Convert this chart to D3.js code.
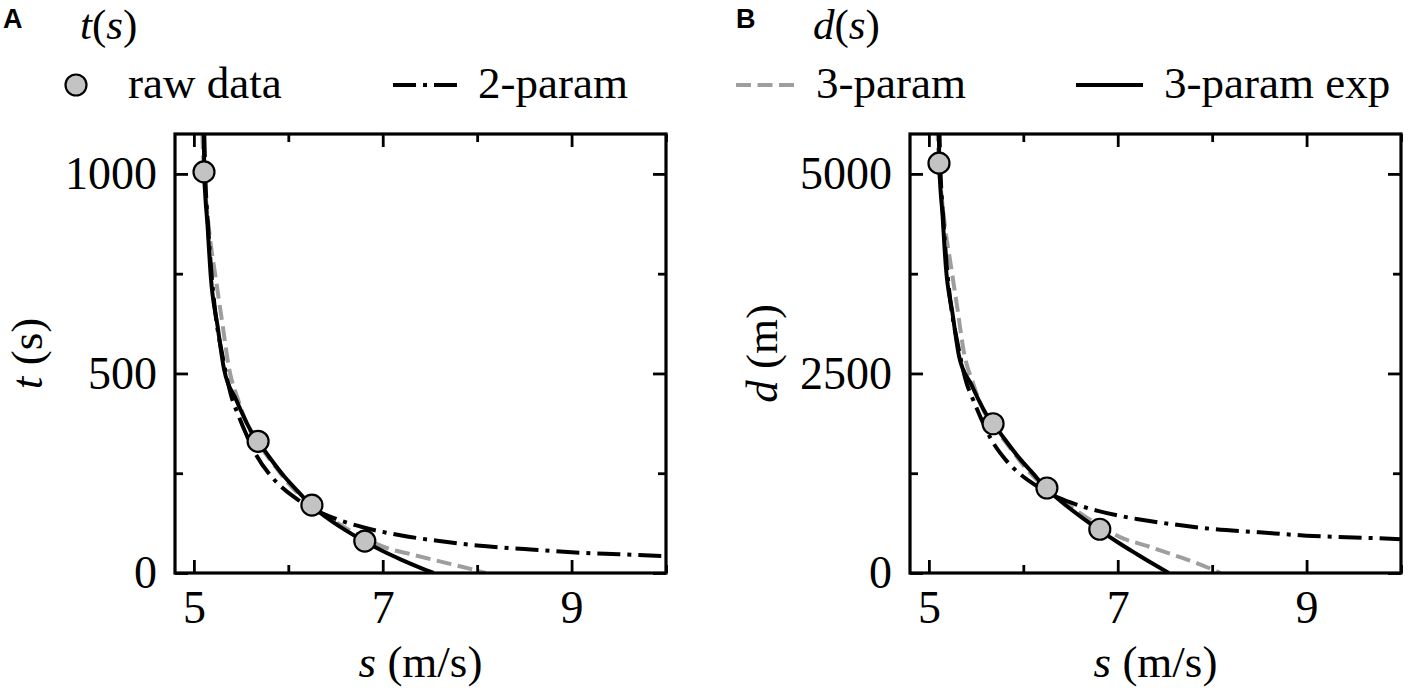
<!DOCTYPE html>
<html>
<head>
<meta charset="utf-8">
<script src="https://cdn.jsdelivr.net/npm/d3@7/dist/d3.min.js"></script>
<style>
  body { margin: 0; background: #fff; }
  svg text { font-family: "Liberation Serif", "Times New Roman", serif; fill: #000; }
  .panel-letter { font-family: "Liberation Sans", Arial, sans-serif !important; font-weight: bold; }
</style>
</head>
<body>
<svg id="chart" width="1409" height="697"></svg>
<script>
// raw data (speed m/s, time s, distance m)
const rawS = [5.107, 5.68, 6.25, 6.81];
const rawT = [1005, 330, 170, 80];
const rawD = [5135, 1870, 1065, 548];

// 2-param fit
const twoS = [5.11, 5.12, 5.15, 5.19, 5.245, 5.29, 5.40, 5.47, 5.55, 5.65, 5.82, 5.95, 6.1, 6.3, 6.5, 6.8, 7.2, 7.6, 8.0, 8.5, 9.0, 9.5, 10.05];
const twoT = [1100, 1005, 870, 740, 620, 560, 440, 396, 350, 300, 242, 211, 184, 156, 136, 114, 94, 80, 69, 60, 52, 47, 42];
const twoD = [5621, 5146, 4481, 3841, 3252, 2962, 2376, 2166, 1943, 1695, 1408, 1255, 1122, 983, 884, 775, 677, 608, 552, 510, 468, 446, 422];

// 3-param fit
const threeS = [5.09, 5.105, 5.135, 5.17, 5.23, 5.305, 5.37, 5.47, 5.61, 5.68, 5.85, 6.0, 6.25, 6.5, 6.8, 7.05, 7.3, 7.57, 7.85, 8.09];
const threeT = [1100, 1005, 920, 840, 741, 620, 516, 433, 350, 325, 270, 225, 168, 128, 88, 62, 47, 31, 15, 0];
const threeD = [5599, 5131, 4724, 4343, 3875, 3289, 2771, 2369, 1964, 1846, 1580, 1350, 1050, 832, 598, 437, 343, 235, 118, 0];

// 3-param exp fit
const expS = [5.105, 5.11, 5.145, 5.18, 5.25, 5.32, 5.45, 5.62, 5.68, 5.8, 5.96, 6.1, 6.25, 6.4, 6.6, 6.8, 7.0, 7.2, 7.4, 7.54];
const expT = [1100, 1005, 870, 740, 620, 510, 433, 350, 330, 290, 241, 205, 168, 140, 108, 80, 55, 33, 13, 0];
const expD = [5616, 5136, 4476, 3833, 3255, 2713, 2360, 1967, 1874, 1682, 1436, 1251, 1050, 896, 713, 544, 385, 238, 96, 0];

// ticks
const xMajor = [5, 7, 9];
const xMinor = [6, 8, 10];
const tMajor = [0, 500, 1000];
const tMinor = [250, 750];
const dMajor = [0, 2500, 5000];
const dMinor = [1250, 3750];

const GRAY = '#9e9e9e';
const MARKER_FILL = '#c3c3c3';
const LW = 4;
const DASHDOT = '23,7,4,7';
const DASHED = '15,6.5';

const svg = d3.select('#chart');

const panels = [
  { id: 'A', sym: 't', unit: 's', left: 175, right: 666, yMax: 1100,
    yMajor: tMajor, yMinor: tMinor, raw: rawT, two: twoT, three: threeT, exp: expT },
  { id: 'B', sym: 'd', unit: 'm', left: 910, right: 1401, yMax: 5500,
    yMajor: dMajor, yMinor: dMinor, raw: rawD, two: twoD, three: threeD, exp: expD }
];
const TOP = 134, BOTTOM = 573;

panels.forEach((p, pi) => {
  const x = d3.scaleLinear().domain([4.8, 10.0]).range([p.left, p.right]);
  const y = d3.scaleLinear().domain([0, p.yMax]).range([BOTTOM, TOP]);
  const g = svg.append('g');

  const clipId = 'clip' + p.id;
  svg.append('clipPath').attr('id', clipId).append('rect')
    .attr('x', p.left).attr('y', TOP).attr('width', p.right - p.left).attr('height', BOTTOM - TOP);

  const curves = g.append('g').attr('clip-path', `url(#${clipId})`);
  const lineOf = (S, V) => d3.line()
    .x(i => x(S[i])).y(i => y(V[i]))
    .curve(d3.curveMonotoneX)(d3.range(S.length));

  curves.append('path').attr('d', lineOf(threeS, p.three))
    .attr('fill', 'none').attr('stroke', GRAY).attr('stroke-width', LW).attr('stroke-dasharray', DASHED);
  curves.append('path').attr('d', lineOf(twoS, p.two))
    .attr('fill', 'none').attr('stroke', '#000').attr('stroke-width', LW).attr('stroke-dasharray', DASHDOT);
  curves.append('path').attr('d', lineOf(expS, p.exp))
    .attr('fill', 'none').attr('stroke', '#000').attr('stroke-width', LW);

  // axes, ticks pointing inward on all four sides
  const axes = [
    [d3.axisBottom(x), `translate(0,${BOTTOM})`, xMajor, xMinor, true],
    [d3.axisTop(x), `translate(0,${TOP})`, xMajor, xMinor, false],
    [d3.axisLeft(y), `translate(${p.left},0)`, p.yMajor, p.yMinor, true],
    [d3.axisRight(y), `translate(${p.right},0)`, p.yMajor, p.yMinor, false]
  ];
  axes.forEach(([ax, tr, major, minor, labels], k) => {
    const isX = k < 2;
    const gm = g.append('g').attr('transform', tr)
      .call(ax.tickValues(major).tickSizeInner(-13).tickSizeOuter(0)
        .tickPadding(isX ? 17 : 18)
        .tickFormat(labels ? d3.format('d') : ''));
    gm.select('.domain').remove();
    gm.selectAll('line').attr('stroke', '#000').attr('stroke-width', 2.8);
    gm.selectAll('text').attr('font-size', 46).attr('font-family', '"Liberation Serif", serif');

    const gn = g.append('g').attr('transform', tr)
      .call(ax.tickValues(minor).tickSizeInner(-8).tickFormat(''));
    gn.select('.domain').remove();
    gn.selectAll('line').attr('stroke', '#000').attr('stroke-width', 2.8);
  });

  g.append('rect')
    .attr('x', p.left).attr('y', TOP)
    .attr('width', p.right - p.left).attr('height', BOTTOM - TOP)
    .attr('fill', 'none').attr('stroke', '#000').attr('stroke-width', 3.2);

  // raw data markers
  g.selectAll('circle.raw').data(rawS).enter().append('circle')
    .attr('class', 'raw')
    .attr('cx', d => x(d)).attr('cy', (d, i) => y(p.raw[i]))
    .attr('r', 10.5)
    .attr('fill', MARKER_FILL).attr('stroke', '#000').attr('stroke-width', 2.2);

  // axis labels
  const xl = g.append('text')
    .attr('x', (p.left + p.right) / 2).attr('y', 677)
    .attr('text-anchor', 'middle').attr('font-size', 45);
  xl.append('tspan').attr('font-style', 'italic').text('s');
  xl.append('tspan').text(' (m/s)');

  const ylx = p.left - 133;
  const yl = g.append('text')
    .attr('transform', `translate(${ylx},${(TOP + BOTTOM) / 2}) rotate(-90)`)
    .attr('text-anchor', 'middle').attr('font-size', 45);
  yl.append('tspan').attr('font-style', 'italic').text(p.sym);
  yl.append('tspan').text(` (${p.unit})`);

  // panel letter and title
  const ox = pi === 0 ? 0 : 733;
  svg.append('text').attr('class', 'panel-letter')
    .attr('x', ox + 3).attr('y', 28).attr('font-size', 27).text(p.id);
  const tt = svg.append('text').attr('x', ox + 80).attr('y', 39).attr('font-size', 43);
  tt.append('tspan').attr('font-style', 'italic').text(p.sym);
  tt.append('tspan').text('(');
  tt.append('tspan').attr('font-style', 'italic').text('s');
  tt.append('tspan').text(')');
});

// legend across the top
const LEG_Y = 85, LEG_TEXT_Y = 98;
const legend = svg.append('g');
legend.append('circle').attr('cx', 76).attr('cy', LEG_Y).attr('r', 10.5)
  .attr('fill', MARKER_FILL).attr('stroke', '#000').attr('stroke-width', 2.2);
legend.append('text').attr('x', 128).attr('y', LEG_TEXT_Y).attr('font-size', 45).text('raw data');

const legLines = [
  { x0: 393, x1: 460, tx: 478, label: '2-param', color: '#000', dash: DASHDOT },
  { x0: 736, x1: 796, tx: 816, label: '3-param', color: GRAY, dash: DASHED },
  { x0: 1076, x1: 1143, tx: 1164, label: '3-param exp', color: '#000', dash: null }
];
legLines.forEach(l => {
  legend.append('line').attr('x1', l.x0).attr('x2', l.x1).attr('y1', LEG_Y).attr('y2', LEG_Y)
    .attr('stroke', l.color).attr('stroke-width', LW).attr('stroke-dasharray', l.dash);
  legend.append('text').attr('x', l.tx).attr('y', LEG_TEXT_Y).attr('font-size', 45).text(l.label);
});
</script>
</body>
</html>
